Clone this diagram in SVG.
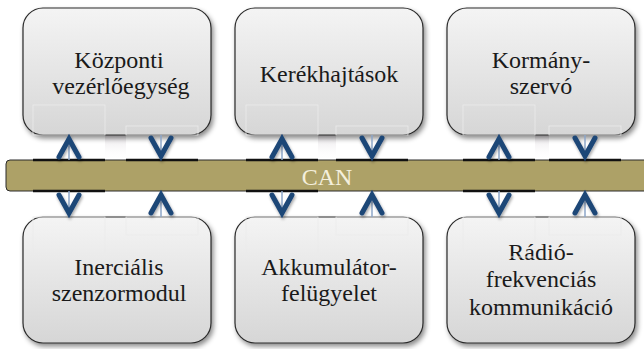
<svg xmlns="http://www.w3.org/2000/svg" width="644" height="349" viewBox="0 0 644 349">
<defs>
<linearGradient id="boxg" x1="0" y1="0" x2="0" y2="1">
<stop offset="0" stop-color="#F4F4F4"/>
<stop offset="1" stop-color="#D6D6D6"/>
</linearGradient>
<filter id="sh" x="-10%" y="-10%" width="125%" height="130%">
<feDropShadow dx="2" dy="3" stdDeviation="2.5" flood-color="#000" flood-opacity="0.45"/>
</filter>
<filter id="ash" x="-50%" y="-50%" width="200%" height="200%">
<feDropShadow dx="1" dy="2" stdDeviation="1.5" flood-color="#000" flood-opacity="0.35"/>
</filter>
<linearGradient id="gapg" x1="0" y1="0" x2="0" y2="1">
<stop offset="0" stop-color="#E2DEE2" stop-opacity="0.9"/>
<stop offset="1" stop-color="#FFFFFF" stop-opacity="0"/>
</linearGradient>
</defs>
<style>
.box{fill:url(#boxg);stroke:#2a2a2a;stroke-width:1.2;filter:url(#sh)}
.lbl{font-family:'Liberation Serif','DejaVu Serif',serif;font-size:24px;fill:#1a1a1a;text-anchor:middle}
.can{font-family:'Liberation Serif','DejaVu Serif',serif;font-size:24px;fill:#F4EFDC;text-anchor:middle}
.chev{fill:none;stroke:#1F4677;stroke-width:5;stroke-linecap:round;stroke-linejoin:miter;filter:url(#ash)}
.shaft{stroke:#8DA6C8;stroke-width:1.5}
.seg{stroke:#111;stroke-width:2.5}
.faint{fill:none;stroke:#EBEBEB;stroke-width:0.8}
</style>
<rect width="644" height="349" fill="#FFFFFF"/>

<g id="shades">
<rect x="105" y="135" width="21" height="24" fill="url(#gapg)"/>
<rect x="318" y="135" width="18" height="24" fill="url(#gapg)"/>
<rect x="535" y="135" width="14" height="24" fill="url(#gapg)"/>
</g>

<g id="node-kozponti">
<rect class="box" x="23" y="8" width="188" height="127" rx="20"/>
<text class="lbl" x="119" y="68" font-family="Liberation Serif, serif">Központi</text>
<text class="lbl" x="121" y="94" font-family="Liberation Serif, serif">vezérlőegység</text>
</g>
<g id="node-kerekhajtasok">
<rect class="box" x="235" y="8" width="188" height="127" rx="20"/>
<text class="lbl" x="329" y="82" font-family="Liberation Serif, serif">Kerékhajtások</text>
</g>
<g id="node-kormanyszervo">
<rect class="box" x="447" y="8" width="188" height="127" rx="20"/>
<text class="lbl" x="541" y="68" font-family="Liberation Serif, serif">Kormány-</text>
<text class="lbl" x="541" y="94" font-family="Liberation Serif, serif">szervó</text>
</g>
<g id="node-inercialis">
<rect class="box" x="23" y="217" width="188" height="126" rx="20"/>
<text class="lbl" x="119" y="275" font-family="Liberation Serif, serif">Inerciális</text>
<text class="lbl" x="119" y="301" font-family="Liberation Serif, serif">szenzormodul</text>
</g>
<g id="node-akkumulator">
<rect class="box" x="235" y="217" width="188" height="126" rx="20"/>
<text class="lbl" x="329" y="275" font-family="Liberation Serif, serif">Akkumulátor-</text>
<text class="lbl" x="329" y="301" font-family="Liberation Serif, serif">felügyelet</text>
</g>
<g id="node-radio">
<rect class="box" x="447" y="217" width="188" height="126" rx="20"/>
<text class="lbl" x="541" y="260" font-family="Liberation Serif, serif">Rádió-</text>
<text class="lbl" x="541" y="287" font-family="Liberation Serif, serif">frekvenciás</text>
<text class="lbl" x="541" y="315" font-family="Liberation Serif, serif">kommunikáció</text>
</g>

<g id="frames">
<rect class="faint" x="33" y="105" width="72" height="30"/>
<rect class="faint" x="126" y="126" width="72" height="9"/>
<rect class="faint" x="246" y="105" width="72" height="30"/>
<rect class="faint" x="336" y="126" width="72" height="9"/>
<rect class="faint" x="463" y="105" width="72" height="30"/>
<rect class="faint" x="549" y="126" width="72" height="9"/>
<rect class="faint" x="33" y="217" width="72" height="40"/>
<rect class="faint" x="126" y="217" width="72" height="18"/>
<rect class="faint" x="246" y="217" width="72" height="40"/>
<rect class="faint" x="336" y="217" width="72" height="18"/>
<rect class="faint" x="463" y="217" width="72" height="40"/>
<rect class="faint" x="549" y="217" width="72" height="18"/>
</g>

<g id="bus-can">
<rect x="6" y="160" width="660" height="31" rx="4" fill="#ADA167" stroke="#2a2a2a" stroke-width="1"/>
<text class="can" x="327" y="185" font-family="Liberation Serif, serif">CAN</text>
</g>

<g id="connectors">
<line class="seg" x1="33" y1="160" x2="105" y2="160"/>
<line class="seg" x1="126" y1="160" x2="198" y2="160"/>
<line class="seg" x1="246" y1="160" x2="318" y2="160"/>
<line class="seg" x1="336" y1="160" x2="408" y2="160"/>
<line class="seg" x1="463" y1="160" x2="535" y2="160"/>
<line class="seg" x1="549" y1="160" x2="621" y2="160"/>
<line class="seg" x1="33" y1="191" x2="105" y2="191"/>
<line class="seg" x1="246" y1="191" x2="318" y2="191"/>
<line class="seg" x1="463" y1="191" x2="535" y2="191"/>

<g>
<line class="shaft" x1="69" y1="138" x2="69" y2="160"/>
<polyline class="chev" points="59,157 69,139 79,157"/>
<line class="shaft" x1="282" y1="138" x2="282" y2="160"/>
<polyline class="chev" points="272,157 282,139 292,157"/>
<line class="shaft" x1="499" y1="138" x2="499" y2="160"/>
<polyline class="chev" points="489,157 499,139 509,157"/>
</g>
<g>
<line class="shaft" x1="161" y1="135" x2="161" y2="157"/>
<polyline class="chev" points="151,138 161,156 171,138"/>
<line class="shaft" x1="372" y1="135" x2="372" y2="157"/>
<polyline class="chev" points="362,138 372,156 382,138"/>
<line class="shaft" x1="585" y1="135" x2="585" y2="157"/>
<polyline class="chev" points="575,138 585,156 595,138"/>
</g>
<g>
<line class="shaft" x1="69" y1="191" x2="69" y2="214"/>
<polyline class="chev" points="59,195 69,213 79,195"/>
<line class="shaft" x1="282" y1="191" x2="282" y2="214"/>
<polyline class="chev" points="272,195 282,213 292,195"/>
<line class="shaft" x1="499" y1="191" x2="499" y2="214"/>
<polyline class="chev" points="489,195 499,213 509,195"/>
</g>
<g>
<line class="shaft" x1="161" y1="194" x2="161" y2="217"/>
<polyline class="chev" points="151,213 161,195 171,213"/>
<line class="shaft" x1="372" y1="194" x2="372" y2="217"/>
<polyline class="chev" points="362,213 372,195 382,213"/>
<line class="shaft" x1="585" y1="194" x2="585" y2="217"/>
<polyline class="chev" points="575,213 585,195 595,213"/>
</g>
</g>
</svg>
